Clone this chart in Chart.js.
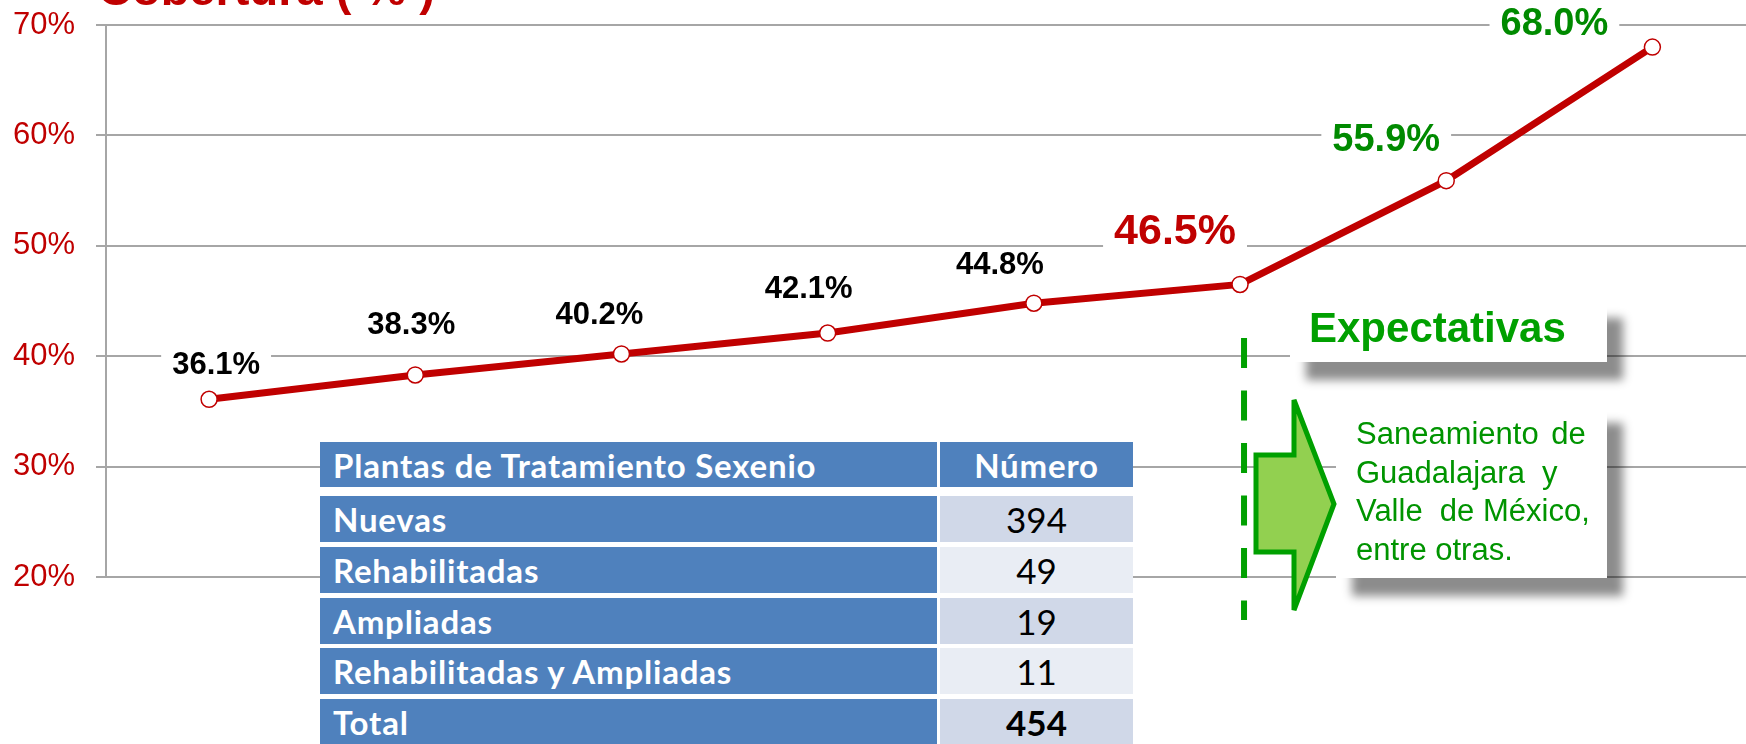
<!DOCTYPE html>
<html lang="es">
<head>
<meta charset="utf-8">
<title>Cobertura (%)</title>
<script src="https://cdn.jsdelivr.net/npm/chart.js@4"></script>
<style>
  html, body { margin: 0; padding: 0; background: #fff; width: 1746px; height: 744px; overflow: hidden; }
  #lienzo { position: absolute; left: 0; top: 0; }
  .celda { position: absolute; box-sizing: border-box; display: flex; align-items: center;
           font-family: Lato, 'Open Sans', sans-serif; font-size: 33px; letter-spacing: 0.8px; }
  .azul { background: #4F81BD; color: #fff; font-weight: bold; padding-left: 13px; }
  .num { justify-content: center; color: #000; font-size: 35px; letter-spacing: 0; }
  .caja { position: absolute; background: #fff; box-shadow: 16px 18px 9px rgba(0,0,0,0.45); }
  .verde { position: absolute; font-family: 'Liberation Sans', Arial, sans-serif; color: #009A00; white-space: pre; }
</style>
</head>
<body>
<canvas id="lienzo" width="1765" height="744"></canvas>
<div id="tabla"></div>

<div class="caja" style="left:1290px; top:300px; width:317px; height:62px;"></div>
<div class="verde" style="left:1309px; top:307px; font-size:42px; font-weight:bold; line-height:42px; color:#00A000;">Expectativas</div>

<div class="caja" style="left:1336px; top:405px; width:271px; height:173px;"></div>
<div class="verde" style="left:1356px; top:415px; font-size:31px; line-height:38.5px; color:#009400;"><span style="word-spacing:4px">Saneamiento de</span>
Guadalajara  y
Valle  de México,
entre otras.</div>

<svg style="position:absolute; left:0; top:0;" width="1746" height="744">
  <polygon points="1256,455 1294,455 1294,400 1334,504 1294,610 1294,552 1256,552"
           fill="#92D050" stroke="#00A000" stroke-width="5" stroke-linejoin="miter"/>
</svg>

<script>
// Datos
const categorias = ['2006', '2007', '2008', '2009', '2010', '2011', '2012', '2013'];
const cobertura = [36.1, 38.3, 40.2, 42.1, 44.8, 46.5, 55.9, 68.0];
const ticksY = [20, 30, 40, 50, 60, 70];

const tablaEncabezado = ['Plantas de Tratamiento Sexenio', 'Número'];
const tablaConceptos = ['Nuevas', 'Rehabilitadas', 'Ampliadas', 'Rehabilitadas y Ampliadas', 'Total'];
const tablaNumeros = [394, 49, 19, 11, 454];

const rojo = '#C00000';
const fuente = "'Liberation Sans', Arial, sans-serif";

// Estilo de las etiquetas de cada punto
const estiloEtiquetas = {
    color: ['#000', '#000', '#000', '#000', '#000', rojo, '#008A00', '#008A00'],
    tam: [31, 31, 31, 31, 31, 43, 38, 38],
    dx: [7, -4, -22, -19, -34, -65, -60, -98],
    dy: [-36, -52, -41, -46, -40, -56, -43, -26]
};

function posEtiqueta(chart, i) {
    const p = chart.getDatasetMeta(0).data[i];
    return { x: p.x + estiloEtiquetas.dx[i], y: p.y + estiloEtiquetas.dy[i] };
}

const etiquetasPlugin = {
    id: 'etiquetas',
    beforeDatasetsDraw(chart) {
        // fondo blanco que tapa la cuadrícula detrás de cada etiqueta
        const ctx = chart.ctx;
        ctx.save();
        ctx.fillStyle = '#fff';
        cobertura.forEach((v, i) => {
            const t = estiloEtiquetas.tam[i];
            ctx.font = 'bold ' + t + 'px ' + fuente;
            const w = ctx.measureText(v.toFixed(1) + '%').width + 22;
            const c = posEtiqueta(chart, i);
            ctx.fillRect(c.x - w / 2, c.y - t * 0.45, w, t * 0.9);
        });
        ctx.restore();
    },
    afterDatasetsDraw(chart) {
        const ctx = chart.ctx;
        ctx.save();
        ctx.textAlign = 'center';
        ctx.textBaseline = 'alphabetic';
        cobertura.forEach((v, i) => {
            const t = estiloEtiquetas.tam[i];
            ctx.font = 'bold ' + t + 'px ' + fuente;
            ctx.fillStyle = estiloEtiquetas.color[i];
            const c = posEtiqueta(chart, i);
            ctx.fillText(v.toFixed(1) + '%', c.x, c.y + t * 0.358);
        });

        // línea punteada verde que separa las expectativas
        const xs = chart.scales.x.getPixelForValue(5) + 4;
        ctx.strokeStyle = '#00A000';
        ctx.lineWidth = 6;
        ctx.setLineDash([30, 22.5]);
        ctx.beginPath();
        ctx.moveTo(xs, 338);
        ctx.lineTo(xs, 620);
        ctx.stroke();
        ctx.restore();
    },
    afterDraw(chart) {
        const ctx = chart.ctx;
        ctx.save();
        ctx.font = 'bold 47px ' + fuente;
        ctx.fillStyle = rojo;
        ctx.textBaseline = 'alphabetic';
        ctx.fillText('Cobertura ( % )', 98, 5);
        ctx.restore();
    }
};

const ctx = document.getElementById('lienzo').getContext('2d');
new Chart(ctx, {
    type: 'line',
    data: {
        labels: categorias,
        datasets: [{
            data: cobertura,
            borderColor: rojo,
            borderWidth: 7,
            pointRadius: 8,
            pointBorderWidth: 1.5,
            pointBorderColor: rojo,
            pointBackgroundColor: '#fff',
            tension: 0
        }]
    },
    options: {
        responsive: false,
        animation: false,
        devicePixelRatio: 1,
        layout: { padding: { top: 25, bottom: 167, left: 0, right: 0 } },
        scales: {
            x: { display: false, offset: true },
            y: {
                min: ticksY[0],
                max: ticksY[ticksY.length - 1],
                afterFit(scale) {
                    scale.width = 106;
                    scale.paddingTop = 0;
                    scale.paddingBottom = 0;
                    scale.paddingRight = 0;
                },
                ticks: {
                    stepSize: 10,
                    padding: 21,
                    color: rojo,
                    font: { family: fuente, size: 31 },
                    callback: v => v + '%'
                },
                grid: { color: '#A6A6A6', lineWidth: 2, tickLength: 10 },
                border: { color: '#A6A6A6', width: 2 }
            }
        },
        plugins: {
            legend: { display: false },
            tooltip: { enabled: false }
        }
    },
    plugins: [etiquetasPlugin]
});

// Tabla de plantas de tratamiento
const tabla = document.getElementById('tabla');
function celda(left, top, width, height, clase, texto, estilo) {
    const d = document.createElement('div');
    d.className = 'celda ' + clase;
    d.style.cssText = `left:${left}px;top:${top}px;width:${width}px;height:${height}px;` + (estilo || '');
    d.textContent = texto;
    tabla.appendChild(d);
}
tabla.style.cssText = 'position:absolute;left:320px;top:442px;width:813px;height:302px;background:#fff;';
celda(0, 0, 617, 45, 'azul', tablaEncabezado[0]);
celda(620, 0, 193, 45, 'azul', tablaEncabezado[1], 'justify-content:center;padding-left:0;');
tablaConceptos.forEach((c, i) => {
    const top = 54 + i * 50.75;
    const fondo = i % 2 === 0 ? '#D0D8E8' : '#E9EDF4';
    celda(0, top, 617, 46, 'azul', c);
    celda(620, top, 193, 46, 'num', String(tablaNumeros[i]),
        `background:${fondo};` + (i === tablaConceptos.length - 1 ? 'font-weight:bold;' : ''));
});
</script>
</body>
</html>
